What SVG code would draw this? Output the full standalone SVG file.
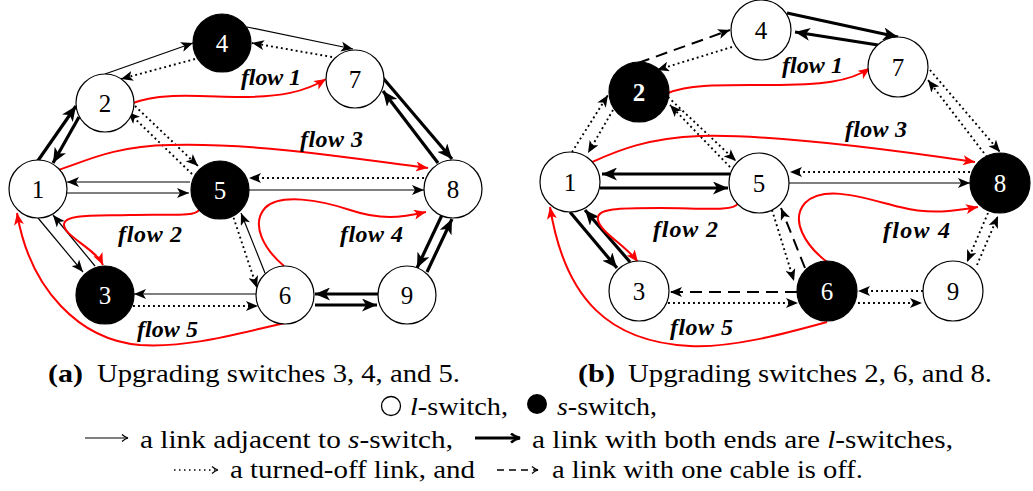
<svg xmlns="http://www.w3.org/2000/svg" width="1033" height="491" viewBox="0 0 1033 491">
<defs>
<style>
.nd{stroke:#000;stroke-width:1.2}
.w{fill:#fff}
.b{fill:#000}
.lbl{font-family:"Liberation Serif",serif;font-size:25px;text-anchor:middle}
.lw{fill:#fff}
.e{stroke:#000;fill:none}
.thin{stroke-width:1.2;marker-end:url(#ah)}
.thick{stroke-width:3.2;marker-end:url(#ahk)}
.dot{stroke-width:1.9;stroke-dasharray:1.9 3.1;marker-end:url(#ah)}
.dash{stroke-width:2;stroke-dasharray:12 7;marker-end:url(#ah)}
.flow{stroke:#f00;stroke-width:2;fill:none;marker-end:url(#ar)}
.fl{font-family:"Liberation Serif",serif;font-size:24px;font-weight:bold;font-style:italic}
.tx{font-family:"Liberation Serif",serif;font-size:26px}
</style>
<marker id="ah" viewBox="0 0 12 10" refX="12" refY="5" markerWidth="12" markerHeight="10" orient="auto" markerUnits="userSpaceOnUse"><path d="M0,0 L12,5 L0,10 L3,5 z" fill="#000"/></marker>
<marker id="ahk" viewBox="0 0 15 13" refX="15" refY="6.5" markerWidth="15" markerHeight="13" orient="auto" markerUnits="userSpaceOnUse"><path d="M0,0 L15,6.5 L0,13 L4,6.5 z" fill="#000"/></marker>
<marker id="ar" viewBox="0 0 12 10" refX="12" refY="5" markerWidth="12" markerHeight="10" orient="auto" markerUnits="userSpaceOnUse"><path d="M0,0 L12,5 L0,10 L3,5 z" fill="#f00"/></marker>
<marker id="lg" viewBox="0 0 8 8" refX="7" refY="4" markerWidth="8" markerHeight="8" orient="auto" markerUnits="userSpaceOnUse"><path d="M1,0.5 Q4,3.3 7,4 Q4,4.7 1,7.5" fill="none" stroke="#000" stroke-width="1.2"/></marker>
<marker id="lgk" viewBox="0 0 11 11" refX="10" refY="5.5" markerWidth="11" markerHeight="11" orient="auto" markerUnits="userSpaceOnUse"><path d="M1,1 Q5,4.5 10,5.5 Q5,6.5 1,10" fill="none" stroke="#000" stroke-width="2.6"/></marker>
</defs>
<rect width="1033" height="491" fill="#fff"/>

<g id="connectors">
<path class="e thin" d="M105,74 L193,43"/>
<path class="e thin" d="M247,27 L353,49"/>
<path class="e thin" d="M190,182 L67,182"/>
<path class="e thin" d="M67,193 L189,193"/>
<path class="e thin" d="M249,190 L424,190"/>
<path class="e thin" d="M38,218 L83,272"/>
<path class="e thin" d="M95,266 L53,215"/>
<path class="e thin" d="M258,294 L134,294"/>
<path class="e thin" d="M265,273 L241,213"/>
<path class="e thick" d="M37,162 L76,106"/>
<path class="e thick" d="M79,117 L53,163"/>
<path class="e thick" d="M383,78 L452,159"/>
<path class="e thick" d="M438,163 L383,91"/>
<path class="e thick" d="M378,294 L315,294"/>
<path class="e thick" d="M315,305 L377,305"/>
<path class="e thick" d="M442,215 L417,268"/>
<path class="e thick" d="M427,272 L452,219"/>
<path class="e dot" d="M195,59 L121,79"/>
<path class="e dot" d="M332,57 L252,43"/>
<path class="e dot" d="M135,106 L198,166"/>
<path class="e dot" d="M192,174 L128,112"/>
<path class="e dot" d="M424,178 L249,178"/>
<path class="e dot" d="M133,306 L258,306"/>
<path class="e dot" d="M232,213 L257,288"/>
<path class="flow" d="M133,103 C160,93 190,96 240,97 C280,97 305,92 326,79"/>
<path class="flow" d="M58,170 C80,164 110,146 170,145 C250,143 330,155 428,168"/>
<path class="flow" d="M199,210 C195,217 170,214 130,215 C95,216 65,214 64,224 C63,236 95,248 103,265"/>
<path class="flow" d="M284,266 C265,250 250,225 265,208 C280,193 320,200 350,210 C380,220 400,218 426,212"/>
<path class="flow" d="M285,323 C240,333 190,348 140,345 C80,340 30,290 17,213"/>
<path class="e thin" d="M789,183 L970,183"/>
<path class="e thick" d="M787,13 L898,37"/>
<path class="e thick" d="M878,45 L795,32"/>
<path class="e thick" d="M730,174 L602,174"/>
<path class="e thick" d="M600,188 L728,188"/>
<path class="e thick" d="M570,212 L617,268"/>
<path class="e thick" d="M630,262 L585,210"/>
<path class="e dot" d="M732,47 L657,70"/>
<path class="e dot" d="M572,152 L608,95"/>
<path class="e dot" d="M613,110 L588,153"/>
<path class="e dot" d="M668,97 L736,161"/>
<path class="e dot" d="M730,167 L670,105"/>
<path class="e dot" d="M930,70 L1000,152"/>
<path class="e dot" d="M987,157 L928,80"/>
<path class="e dot" d="M970,172 L790,172"/>
<path class="e dot" d="M668,303 L798,303"/>
<path class="e dot" d="M772,210 L794,281"/>
<path class="e dot" d="M923,291 L858,291"/>
<path class="e dot" d="M858,303 L922,303"/>
<path class="e dot" d="M988,213 L967,262"/>
<path class="e dot" d="M977,265 L998,216"/>
<path class="e dash" d="M638,63 L730,30"/>
<path class="e dash" d="M797,292 L670,292"/>
<path class="e dash" d="M805,268 L781,208"/>
<path class="flow" d="M668,93 C690,84 720,85 770,85 C820,85 850,82 870,68"/>
<path class="flow" d="M592,162 C615,152 645,138 700,136 C770,134 880,148 975,162"/>
<path class="flow" d="M738,203 C735,212 700,208 660,208 C620,208 595,208 598,220 C600,232 625,245 638,262"/>
<path class="flow" d="M827,262 C805,245 790,220 805,203 C825,183 870,200 900,207 C930,215 955,211 978,207"/>
<path class="flow" d="M827,322 C780,335 730,348 690,346 C610,342 565,300 550,207"/>
</g>

<g id="flow-labels">
<text class="fl" x="241" y="85" textLength="60">flow 1</text>
<text class="fl" x="300" y="147" textLength="63">flow 3</text>
<text class="fl" x="118" y="242" textLength="64">flow 2</text>
<text class="fl" x="340" y="242" textLength="63">flow 4</text>
<text class="fl" x="137" y="337" textLength="61">flow 5</text>
<text class="fl" x="782" y="73" textLength="61">flow 1</text>
<text class="fl" x="845" y="137" textLength="62">flow 3</text>
<text class="fl" x="653" y="237" textLength="65">flow 2</text>
<text class="fl" x="883" y="238" textLength="67">flow 4</text>
<text class="fl" x="670" y="335" textLength="63">flow 5</text>
</g>

<g id="a1"><circle class="nd w" cx="38" cy="189" r="29"/><text class="lbl" x="38" y="197.5">1</text></g>
<g id="a2"><circle class="nd w" cx="105" cy="103" r="29"/><text class="lbl" x="105" y="111.5">2</text></g>
<g id="a3"><circle class="nd b" cx="105" cy="295" r="29"/><text class="lbl lw" x="105" y="303.5">3</text></g>
<g id="a4"><circle class="nd b" cx="222" cy="43" r="29"/><text class="lbl lw" x="222" y="51.5">4</text></g>
<g id="a5"><circle class="nd b" cx="220" cy="190" r="29"/><text class="lbl lw" x="220" y="198.5">5</text></g>
<g id="a6"><circle class="nd w" cx="285" cy="295" r="29"/><text class="lbl" x="285" y="303.5">6</text></g>
<g id="a7"><circle class="nd w" cx="355" cy="79" r="29"/><text class="lbl" x="355" y="87.5">7</text></g>
<g id="a8"><circle class="nd w" cx="453" cy="189" r="29"/><text class="lbl" x="453" y="197.5">8</text></g>
<g id="a9"><circle class="nd w" cx="407" cy="295" r="29"/><text class="lbl" x="407" y="303.5">9</text></g>

<g id="b1"><circle class="nd w" cx="570" cy="182" r="30"/><text class="lbl" x="570" y="190.5">1</text></g>
<g id="b2"><circle class="nd b" cx="639" cy="92" r="30"/><text class="lbl lw" x="639" y="100.5" font-weight="bold">2</text></g>
<g id="b3"><circle class="nd w" cx="639" cy="291" r="30"/><text class="lbl" x="639" y="299.5">3</text></g>
<g id="b4"><circle class="nd w" cx="761" cy="30" r="30"/><text class="lbl" x="761" y="38.5">4</text></g>
<g id="b5"><circle class="nd w" cx="759" cy="183" r="30"/><text class="lbl" x="759" y="191.5">5</text></g>
<g id="b6"><circle class="nd b" cx="827" cy="291" r="30"/><text class="lbl lw" x="827" y="299.5">6</text></g>
<g id="b7"><circle class="nd w" cx="898" cy="67" r="30"/><text class="lbl" x="898" y="75.5">7</text></g>
<g id="b8"><circle class="nd b" cx="1000" cy="183" r="30"/><text class="lbl lw" x="1000" y="191.5">8</text></g>
<g id="b9"><circle class="nd w" cx="953" cy="291" r="30"/><text class="lbl" x="953" y="299.5">9</text></g>

<g id="captions">
<text class="tx" x="48" y="382" font-weight="bold" textLength="35" lengthAdjust="spacingAndGlyphs">(a)</text>
<text class="tx" x="97" y="382" textLength="363" lengthAdjust="spacingAndGlyphs">Upgrading switches 3, 4, and 5.</text>
<text class="tx" x="578" y="382" font-weight="bold" textLength="37" lengthAdjust="spacingAndGlyphs">(b)</text>
<text class="tx" x="628" y="382" textLength="364" lengthAdjust="spacingAndGlyphs">Upgrading switches 2, 6, and 8.</text>
</g>

<g id="legend">
<circle cx="391" cy="406" r="9.5" fill="#fff" stroke="#000" stroke-width="1.3"/>
<text class="tx" x="410" y="415" textLength="98" lengthAdjust="spacingAndGlyphs"><tspan font-style="italic">l</tspan>-switch,</text>
<circle cx="537" cy="404" r="10" fill="#000"/>
<text class="tx" x="557" y="415" textLength="100" lengthAdjust="spacingAndGlyphs"><tspan font-style="italic">s</tspan>-switch,</text>
<path d="M85,438 L128,438" stroke="#000" stroke-width="1.2" fill="none" marker-end="url(#lg)"/>
<text class="tx" x="140" y="448" textLength="313" lengthAdjust="spacingAndGlyphs">a link adjacent to <tspan font-style="italic">s</tspan>-switch,</text>
<path d="M475,438 L520,438" stroke="#000" stroke-width="3" fill="none" marker-end="url(#lgk)"/>
<text class="tx" x="532" y="448" textLength="421" lengthAdjust="spacingAndGlyphs">a link with both ends are <tspan font-style="italic">l</tspan>-switches,</text>
<path d="M174,470 L218,470" stroke="#000" stroke-width="1.6" stroke-dasharray="1.5 3.5" fill="none" marker-end="url(#lg)"/>
<text class="tx" x="230" y="478" textLength="245" lengthAdjust="spacingAndGlyphs">a turned-off link, and</text>
<path d="M497,470 L538,470" stroke="#000" stroke-width="1.6" stroke-dasharray="7 5" fill="none" marker-end="url(#lg)"/>
<text class="tx" x="552" y="478" textLength="311" lengthAdjust="spacingAndGlyphs">a link with one cable is off.</text>
</g>
</svg>
